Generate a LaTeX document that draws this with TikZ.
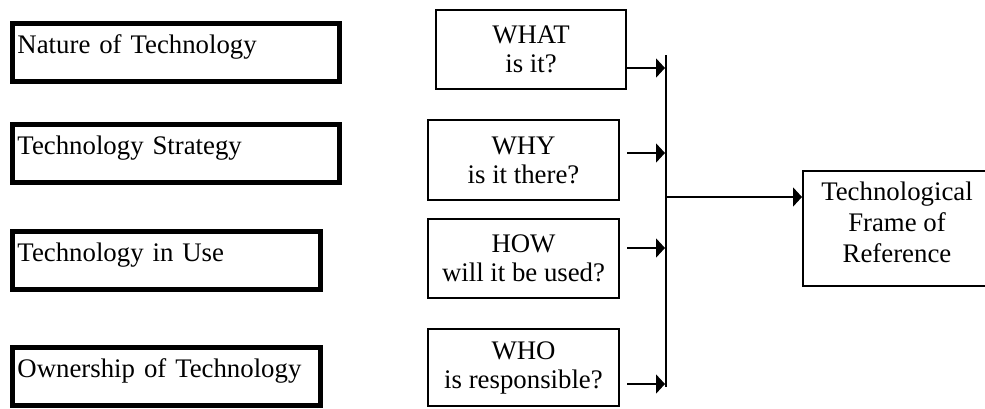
\documentclass[tikz,border=0pt]{standalone}
\usepackage{fontspec}
\setmainfont{Liberation Serif}
\usetikzlibrary{arrows.meta,positioning}
\tikzset{
  aspect/.style={draw,line width=2.5pt,anchor=north west,align=left,
                 inner xsep=2.5pt,inner ysep=0pt,
                 text height=14.75pt,text depth=14.25pt},
  aspectw/.style={aspect,text width=158.5pt},
  aspectn/.style={aspect,text width=149pt},
  qbox/.style={draw,line width=1pt,align=center,inner sep=0pt,
               minimum width=95.5pt,minimum height=40pt},
  frbox/.style={draw,line width=1pt,align=center,inner sep=0pt,
                minimum width=94pt,minimum height=57.5pt,text depth=6pt,
                font=\fontsize{13.4}{15.5}\selectfont},
  flow/.style={-{Triangle[length=4.5pt,width=9.5pt]},line width=1pt},
}

\begin{document}
\begin{tikzpicture}[x=0.5pt,y=-0.5pt,font=\fontsize{13.4}{14.5}\selectfont]
  \useasboundingbox (0,0) rectangle (985,408);

  % four aspects on the left
  \node[aspectw] (nature) at (10,21)  {Nature of Technology};
  \node[aspectw] (strat)  at (10,122) {Technology Strategy};
  \node[aspectn] (inuse)  at (10,229) {Technology in Use};
  \node[aspectn] (owner)  at (10,345) {Ownership of Technology};

  % questions
  \node[qbox,minimum width=95pt,minimum height=39.5pt] (what) at (531,49.5) {WHAT\\is it?};
  \node[qbox] (why) at (523.5,160)   {WHY\\is it there?};
  \node[qbox,minimum height=39.5pt] (how) at (523.5,258.5) {HOW\\will it be used?};
  \node[qbox,minimum height=38.5pt] (who) at (523.5,367.5) {WHO\\is responsible?};

  \node[frbox] (frame) at (897,228.5) {Technological\\Frame of\\Reference};

  % collecting line
  \coordinate (bustop) at (666,55);
  \coordinate (busbot) at (666,387);
  \coordinate (join)   at (666,197);
  \draw[line width=1pt] (bustop) -- (busbot);

  \draw[flow] ([yshift=-9.25pt]what.east) -- ([yshift=-9.25pt,xshift=-0.5pt]what.east -| bustop);
  \draw[flow] ([yshift=3.5pt,xshift=3.5pt]why.east) -- ([yshift=3.5pt,xshift=-0.5pt]why.east -| bustop);
  \draw[flow] ([yshift=5.25pt,xshift=3.5pt]how.east) -- ([yshift=5.25pt,xshift=-0.5pt]how.east -| bustop);
  \draw[flow] ([yshift=-8.25pt,xshift=3.5pt]who.east) -- ([yshift=-8.25pt,xshift=-0.5pt]who.east -| bustop);

  \draw[flow] (join) -- (join -| frame.west);
\end{tikzpicture}
\end{document}
